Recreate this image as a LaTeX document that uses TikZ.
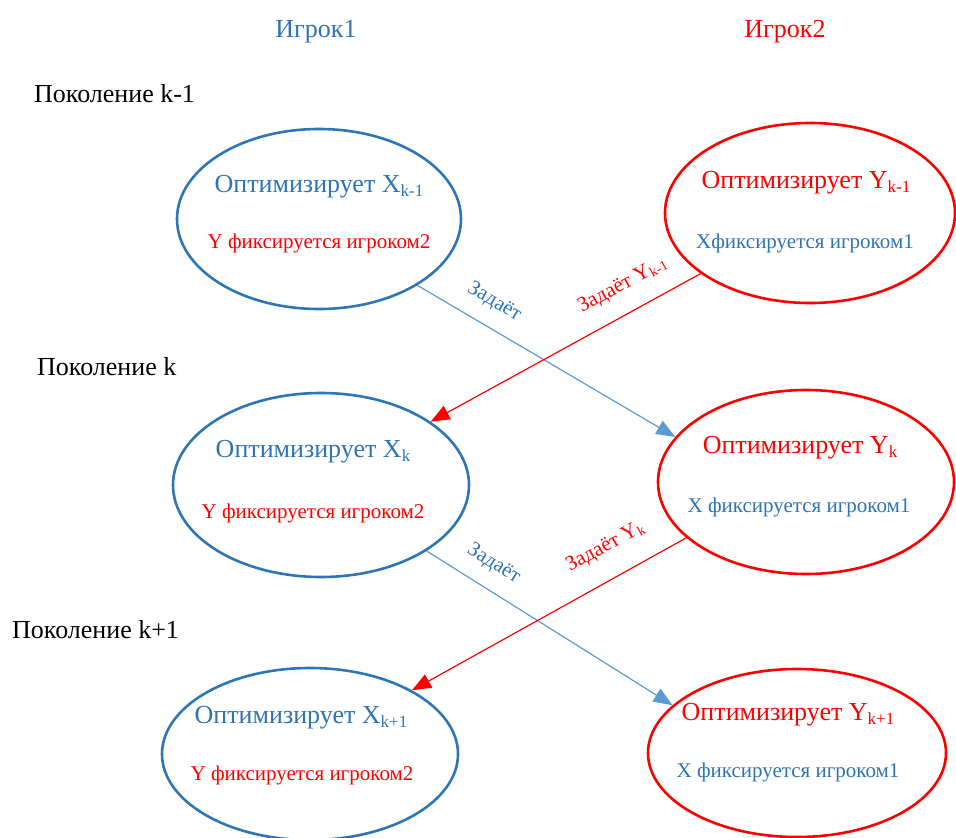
\documentclass[tikz,border=0pt]{standalone}
\usepackage{fontspec}
\setmainfont{Liberation Serif}
\usetikzlibrary{shapes.geometric,arrows.meta}
\definecolor{eblue}{HTML}{2E75B6}
\definecolor{tblue}{HTML}{2E74B5}
\definecolor{lblue}{HTML}{5B9BD5}
\definecolor{ered}{HTML}{FF0000}
\newcommand\lowsub[1]{\raisebox{-4pt}{\fontsize{17}{17}\selectfont #1}}
\newcommand\labsub[1]{\raisebox{-3pt}{\fontsize{14}{14}\selectfont #1}}
\begin{document}
\begin{tikzpicture}[x=1pt,y=-1pt,
  oval/.style={ellipse, draw, line width=2.6pt, inner sep=0pt},
  big/.style={font=\fontsize{26}{30}\selectfont, anchor=base, inner sep=0pt},
  small/.style={font=\fontsize{21}{25}\selectfont, anchor=base, inner sep=0pt},
  head/.style={font=\fontsize{26}{30}\selectfont, anchor=base, inner sep=0pt},
  lab/.style={font=\fontsize{21}{25}\selectfont, sloped, inner sep=0pt},
  barrow/.style={draw=lblue, line width=1.2pt, -{Triangle[length=19pt,width=15pt]}},
  rarrow/.style={draw=ered, line width=1.2pt, -{Triangle[length=19pt,width=15pt]}}]
\useasboundingbox (0,0) rectangle (956,838);
% headers
\node[head, text=tblue] (p1) at (316,37) {Игрок1};
\node[head, text=ered] (p2) at (785,37) {Игрок2};
\node[head, anchor=base west] (g1) at (34,102) {Поколение k-1};
\node[head, anchor=base west] (g2) at (37,375) {Поколение k};
\node[head, anchor=base west] (g3) at (12,638) {Поколение k+1};
% ellipses
\node[oval, draw=eblue, minimum width=284pt, minimum height=180pt] (e1) at (319,219) {};
\node[oval, draw=ered, minimum width=290pt, minimum height=180pt] (e2) at (810,213) {};
\node[oval, draw=eblue, minimum width=296pt, minimum height=184pt] (e3) at (321,485) {};
\node[oval, draw=ered, minimum width=296pt, minimum height=184pt] (e4) at (806,482) {};
\node[oval, draw=eblue, minimum width=296pt, minimum height=172pt] (e5) at (310,754) {};
\node[oval, draw=ered, minimum width=298pt, minimum height=168pt] (e6) at (797,753) {};
% texts
\node[big, text=tblue] (t1a) at (319,192) {Оптимизирует X\lowsub{k-1}};
\node[small, text=ered] (t1b) at (319,248) {Y фиксируется игроком2};
\node[big, text=ered] (t2a) at (806,188) {Оптимизирует Y\lowsub{k-1}};
\node[small, text=tblue] (t2b) at (805,248) {Хфиксируется игроком1};
\node[big, text=tblue] (t3a) at (313,457) {Оптимизирует X\lowsub{k}};
\node[small, text=ered] (t3b) at (313,518) {Y фиксируется игроком2};
\node[big, text=ered] (t4a) at (800,453) {Оптимизирует Y\lowsub{k}};
\node[small, text=tblue] (t4b) at (799,512) {X фиксируется игроком1};
\node[big, text=tblue] (t5a) at (301,723) {Оптимизирует X\lowsub{k+1}};
\node[small, text=ered] (t5b) at (302,780) {Y фиксируется игроком2};
\node[big, text=ered] (t6a) at (788,720) {Оптимизирует Y\lowsub{k+1}};
\node[small, text=tblue] (t6b) at (788,777) {X фиксируется игроком1};
% arrows
\draw[barrow] (e1.-34) -- node[lab, text=tblue, pos=.25, above=15pt] {Задаёт} (e4.161);
\draw[rarrow] (e2.209) -- node[lab, text=ered, pos=.24, above=18pt] {Задаёт Y\labsub{k-1}} (e3.30);
\draw[barrow] (e3.-32.5) -- node[lab, text=tblue, pos=.22, above=15pt] {Задаёт} (e6.159);
\draw[rarrow] (e4.205) -- node[lab, text=ered, pos=.24, above=22pt] {Задаёт Y\labsub{k}} (e5.32);
\end{tikzpicture}
\end{document}
